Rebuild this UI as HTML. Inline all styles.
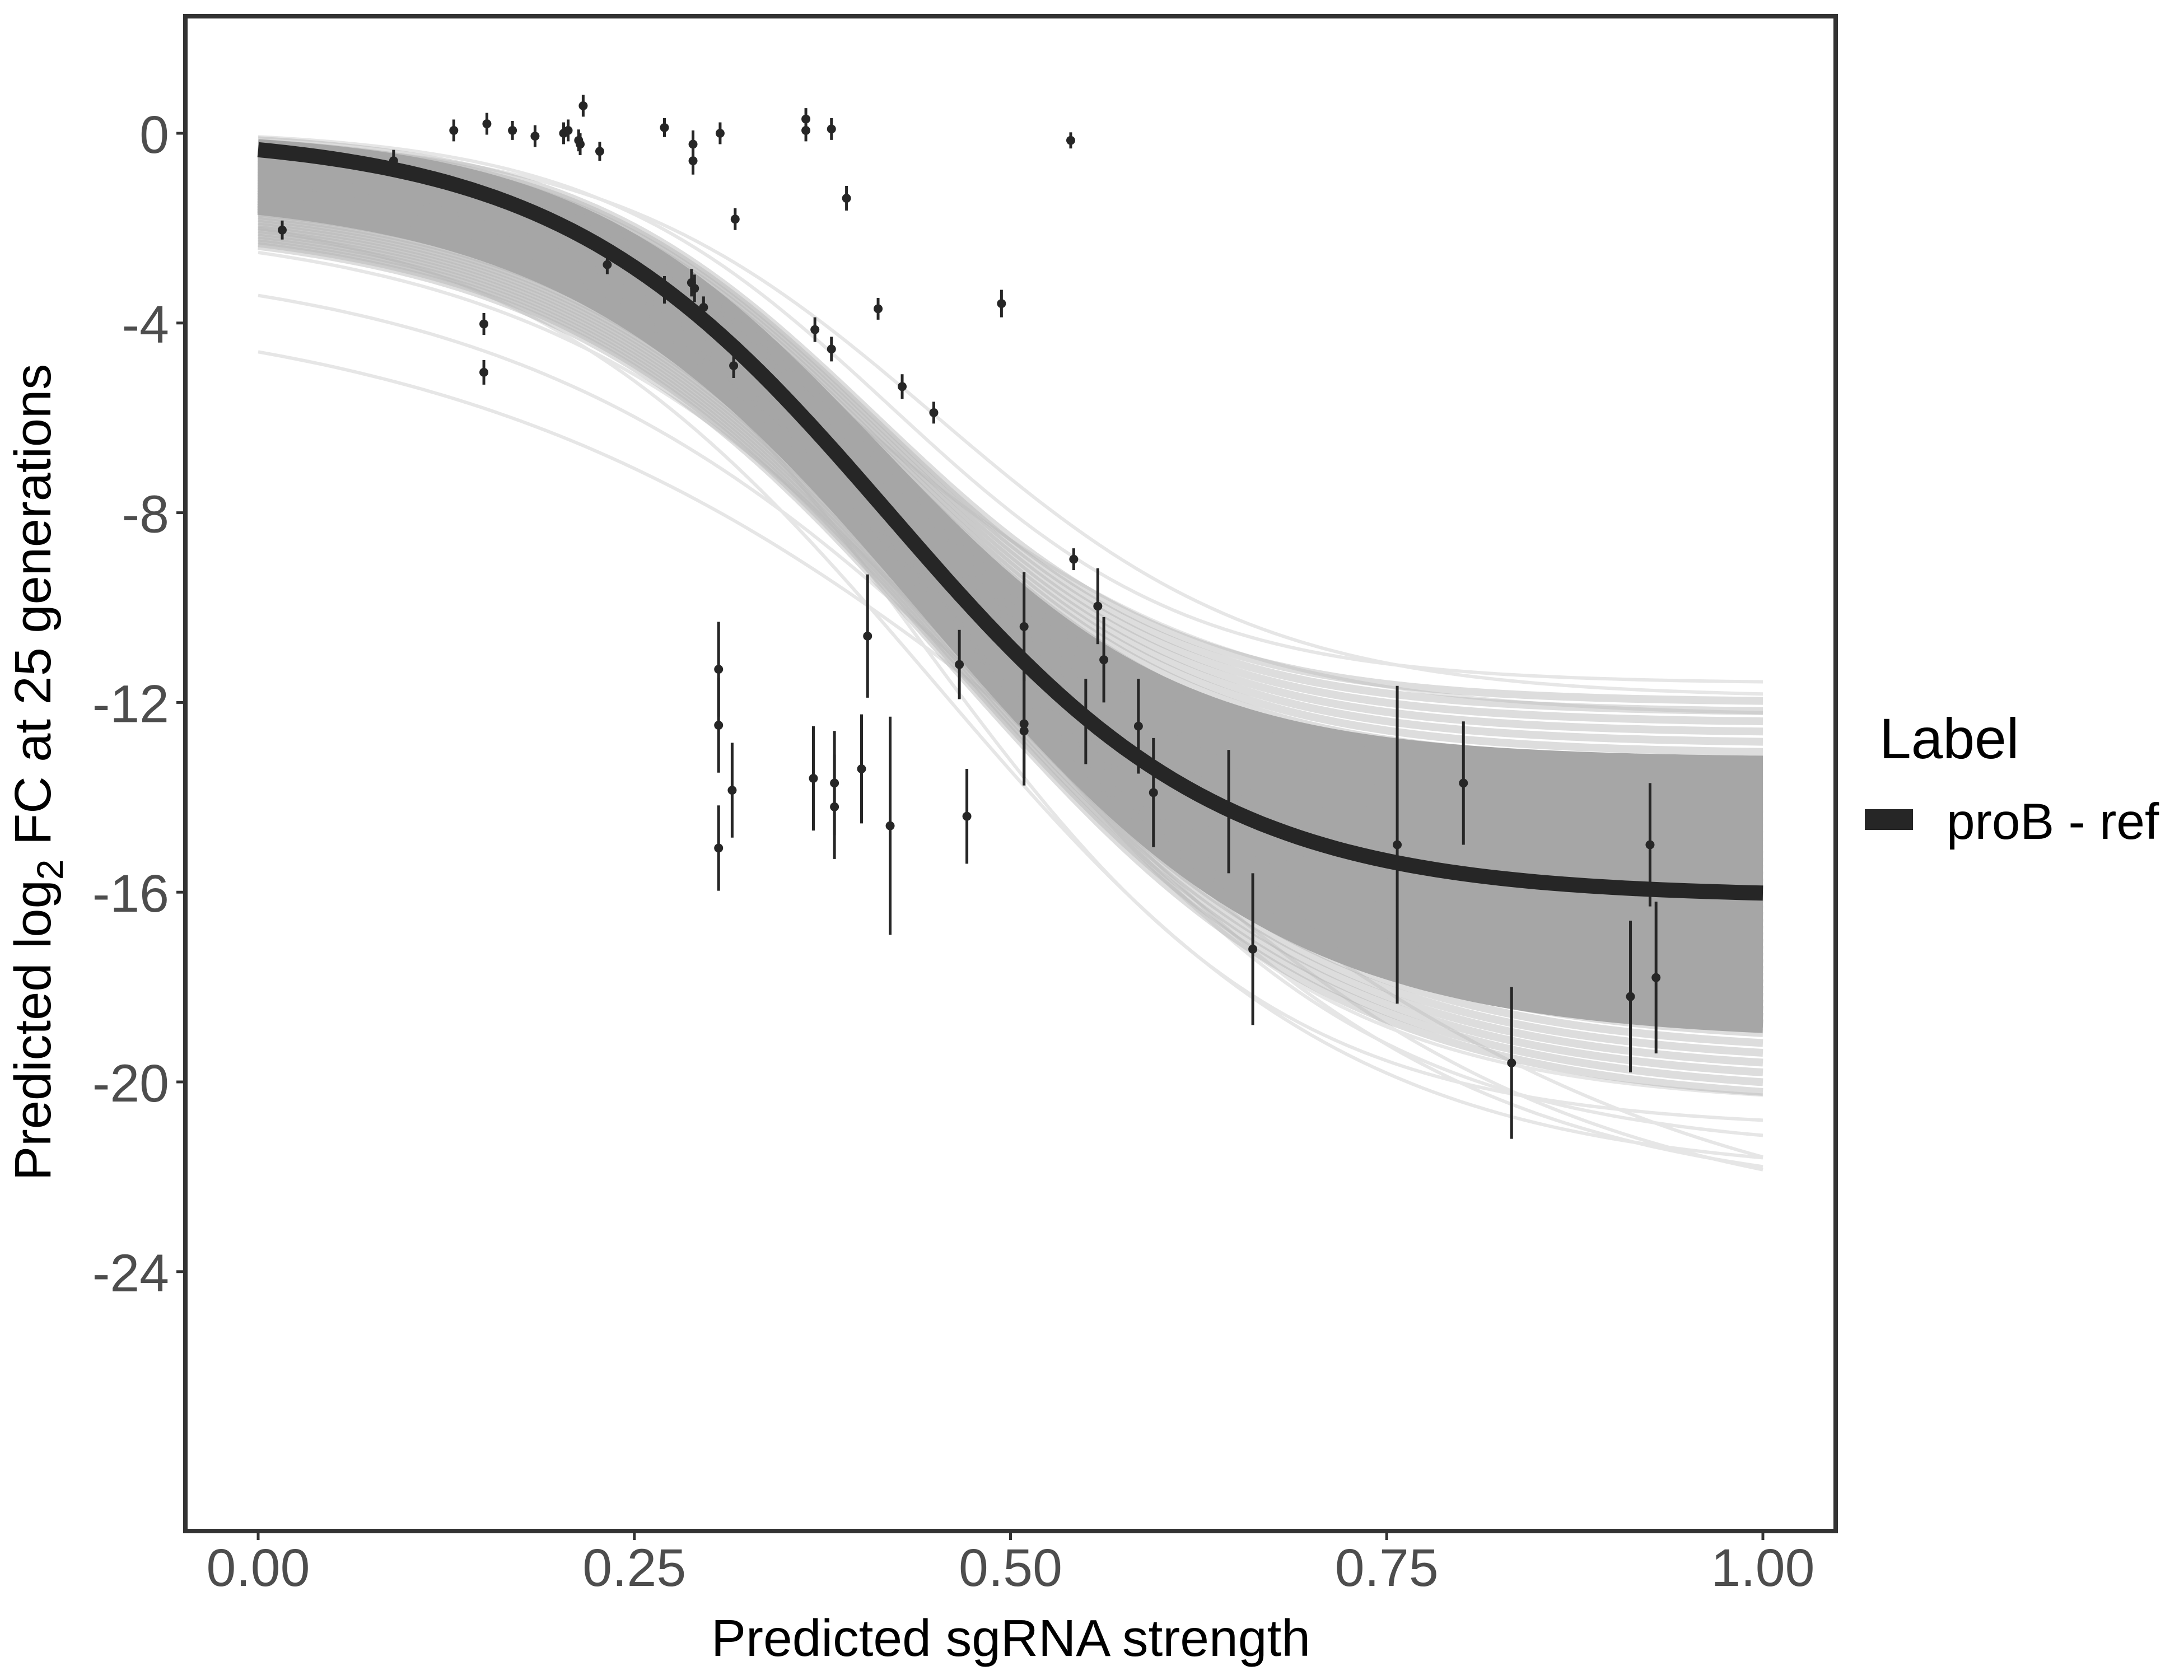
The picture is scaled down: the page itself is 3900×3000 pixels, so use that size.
<!DOCTYPE html>
<html><head><meta charset="utf-8"><style>html,body{margin:0;padding:0;background:#fff}svg{display:block}</style></head>
<body>
<svg id="chart" width="3900" height="3000" viewBox="0 0 3900 3000" xmlns="http://www.w3.org/2000/svg" font-family="Liberation Sans, sans-serif">
<rect width="3900" height="3000" fill="#fff"/>
<g id="draws"></g>
<g id="fit"></g>
<g id="pts"></g>
<rect x="331" y="29" width="2947" height="2705" fill="none" stroke="#333" stroke-width="8"/>
<g id="axes"></g>
<text x="1805" y="2957" font-size="93" text-anchor="middle" fill="#000">Predicted sgRNA strength</text>
<text transform="translate(90,1379) rotate(-90)" font-size="92" text-anchor="middle" fill="#000">Predicted  log<tspan font-size="66" dy="22">2</tspan><tspan dy="-22"> FC at 25 generations</tspan></text>
<g>
<text x="3356" y="1354" font-size="102" fill="#000">Label</text>
<rect x="3330" y="1445" width="86" height="37" fill="#262626"/>
<text x="3476" y="1498" font-size="91" fill="#000">proB - ref</text>
</g>
</svg>
<script>
const xTicks=[0,0.25,0.5,0.75,1];
const xTickLabels=["0.00","0.25","0.50","0.75","1.00"];
const yTicks=[0,-4,-8,-12,-16,-20,-24];
const yTickLabels=["0","-4","-8","-12","-16","-20","-24"];
const fitParams=[0,-16.1,0.42,0.11];
const drawUpper=[0.1,0,0,-0.2,-0.4,-0.8,-1.2,-1.8,-2.5,-3.4];
const drawLower=[-11.6,-11.9,-12.3,-20.5,-21,-21.5,-22,-22.5,-23,-23.5];
const drawMid=[0.42,0.45,0.4,0.46,0.44,0.48,0.45,0.5,0.52,0.55];
const drawScale=[0.1,0.11,0.12,0.12,0.12,0.13,0.14,0.15,0.17,0.2];
const px=[.016,.09,.13,.152,.169,.184,.203,.206,.213,.214,.216,.227,.232,.15,.15,.27,.27,.288,.289,.289,.29,.296,.307,.317,.316,.306,.306,.306,.315,.364,.364,.37,.381,.381,.369,.383,.383,.391,.401,.405,.412,.42,.428,.449,.466,.471,.494,.509,.509,.509,.54,.542,.55,.558,.562,.585,.595,.645,.661,.757,.801,.833,.912,.925,.929];
const py=[-2.04,-.58,.06,.2,.06,-.06,0,.06,-.15,-.23,.58,-.38,-2.77,-4.02,-5.04,.12,-3.3,-3.15,-.23,-.58,-3.27,-3.67,0,-1.81,-4.9,-11.3,-12.48,-15.07,-13.85,.3,.06,-4.14,-4.55,.09,-13.6,-13.7,-14.2,-1.37,-13.4,-10.6,-3.7,-14.6,-5.34,-5.89,-11.2,-14.4,-3.59,-10.4,-12.45,-12.6,-.15,-8.98,-12.4,-9.97,-11.1,-12.5,-13.9,-14.3,-17.2,-15,-13.7,-19.6,-18.2,-15,-17.8];
const pe=[.2,.23,.23,.23,.2,.23,.23,.23,.23,.23,.23,.2,.2,.23,.26,.2,.29,.29,.29,.29,.29,.23,.23,.23,.26,1,1,.9,1,.23,.23,.26,.26,.23,1.1,1.1,1.1,.26,1.15,1.3,.23,2.3,.26,.23,.73,1,.29,1.15,1.15,1.15,.17,.23,.9,.8,.9,1,1.15,1.3,1.6,3.35,1.3,1.6,1.6,1.3,1.6];
const NS="http://www.w3.org/2000/svg";
const X=v=>461+v*2687, Y=v=>238-v*84.7;
const sig=(x,a,b,m,s)=>a+(b-a)/(1+Math.exp(-(x-m)/s));
function mk(t,at,parent){const e=document.createElementNS(NS,t);for(const k in at)e.setAttribute(k,at[k]);parent.appendChild(e);return e;}
function pathFor(a,b,m,s){let d="";for(let i=0;i<=120;i++){const x=i/120;d+=(i?"L":"M")+X(x).toFixed(1)+","+Y(sig(x,a,b,m,s)).toFixed(1);}return d;}
const dg=document.getElementById('draws');
for(let i=0;i<drawLower.length;i++){const p=mk('path',{d:pathFor(drawUpper[i],drawLower[i],drawMid[i],drawScale[i]),fill:'none',stroke:'#e6e6e6','stroke-width':6},dg);

}
for(let j=0;j<40;j++){const t=j/39;const p=mk('path',{d:pathFor(0.05-1.9*t,-12-8.5*t,0.41+0.05*t,0.1+0.03*t),fill:'none',stroke:'#b4b4b4','stroke-opacity':0.45,'stroke-width':14},dg);

}
for(let j=0;j<40;j++){const t=j/39;const p=mk('path',{d:pathFor(-0.05-1.1*t,-13.3-5.7*t,0.41+0.035*t,0.1+0.02*t),fill:'none',stroke:'#a6a6a6','stroke-width':24},dg);

}
const fp=mk('path',{d:pathFor(...fitParams),fill:'none',stroke:'#262626','stroke-width':27},document.getElementById('fit'));


const pg=document.getElementById('pts');
for(let i=0;i<px.length;i++){
const l=mk('line',{x1:X(px[i]),x2:X(px[i]),y1:Y(py[i]+pe[i]),y2:Y(py[i]-pe[i]),stroke:'#262626','stroke-width':5},pg);


const c=mk('circle',{cx:X(px[i]),cy:Y(py[i]),r:8,fill:'#262626'},pg);

}
const ag=document.getElementById('axes');
xTicks.forEach((v,i)=>{const t=mk('line',{x1:X(v),x2:X(v),y1:2738,y2:2750,stroke:'#333','stroke-width':5},ag);


const tx=mk('text',{x:X(v),y:2832,'font-size':95,'text-anchor':'middle',fill:'#4d4d4d'},ag);tx.textContent=xTickLabels[i];

});
yTicks.forEach((v,i)=>{const t=mk('line',{x1:315,x2:327,y1:Y(v),y2:Y(v),stroke:'#333','stroke-width':5},ag);


const tx=mk('text',{x:302,y:Y(v)+35,'font-size':95,'text-anchor':'end',fill:'#4d4d4d'},ag);tx.textContent=yTickLabels[i];

});
</script>
</body></html>
